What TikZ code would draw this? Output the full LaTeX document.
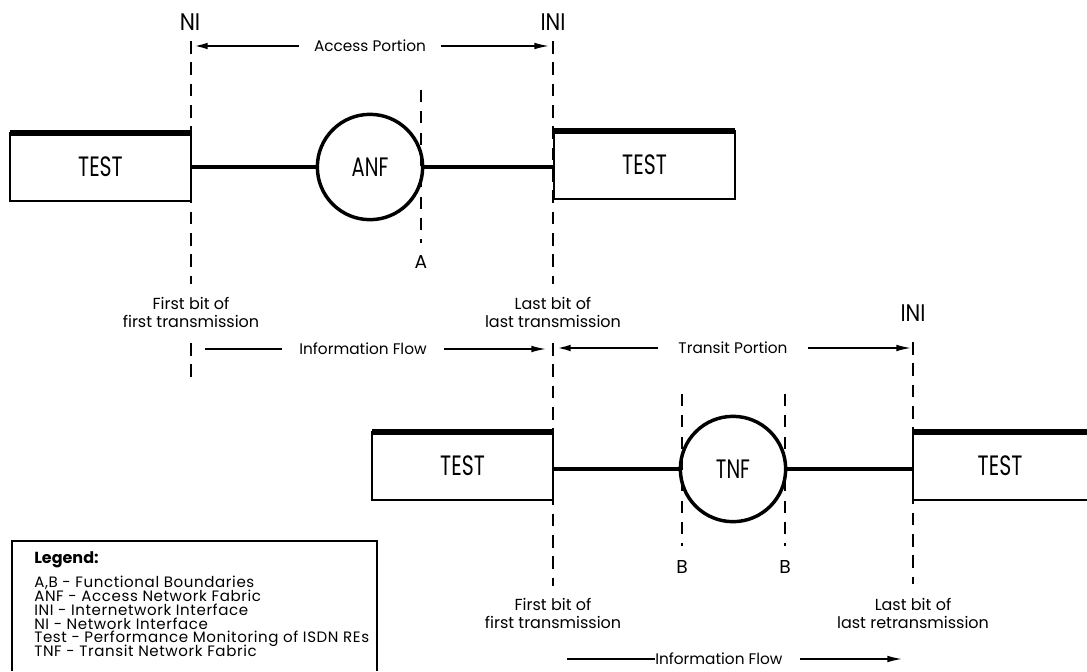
\documentclass[tikz,border=0pt]{standalone}
\usepackage{fontspec}
\usepackage{graphicx}
\setmainfont{Poppins}
\usetikzlibrary{arrows.meta}
\tikzset{
  lbl/.style={font=\fontsize{11.5}{13.5}\selectfont, inner sep=0pt, align=center},
  bitlbl/.style={font=\fontsize{12}{13.5}\selectfont, inner sep=0pt, align=center},
  bndlbl/.style={font=\fontsize{14}{14}\selectfont, inner sep=0pt},
  iface/.style={font=\fontsize{18}{18}\selectfont, inner sep=0pt},
  bnd/.style={line width=1.9pt, dash pattern=on 9.5pt off 6.5pt},
  fbnd/.style={line width=1.2pt, dash pattern=on 9pt off 7pt},
  testbox/.style={draw, line width=2.2pt, inner sep=0pt, outer sep=0pt,
    minimum width=135.75pt, minimum height=51pt, font=\fontsize{21}{21}\selectfont},
  topedge/.style={line width=4pt},
  fabric/.style={circle, draw, line width=2.6pt, inner sep=0pt, outer sep=0pt,
    minimum size=79pt, font=\fontsize{20}{20}\selectfont},
  conn/.style={line width=2.4pt},
  arr/.style={line width=1.1pt, -{Latex[length=11pt,width=5pt]}},
  plainln/.style={line width=1.1pt},
  flowlbl/.style={lbl, inner xsep=11pt},
  lgd/.style={font=\fontsize{11.3}{11.3}\selectfont\addfontfeatures{LetterSpace=4}, anchor=base west, inner sep=0pt},
  legendbox/.style={line width=2.2pt},
}
\newcommand{\cond}[1]{\scalebox{0.73}[1]{#1}}
\begin{document}
\begin{tikzpicture}[x=0.75pt,y=-0.75pt]
\useasboundingbox (0,0) rectangle (1087,671);

% interface labels
\node[iface] (ni) at (190,22) {\scalebox{0.9}[1]{NI}};
\node[iface] (ini) at (553,22) {\scalebox{0.87}[1]{INI}};
\node[iface] (ini2) at (913,313) {\scalebox{0.87}[1]{INI}};

% boxes
\node[testbox] (tl) at (100.5,167) {\cond{TEST}};
\node[testbox] (tr) at (644.5,165) {\cond{TEST}};
\node[testbox] (bl) at (462.5,466) {\cond{TEST}};
\node[testbox, draw=none, minimum width=130.5pt] (br) at (1000,466) {\cond{TEST}};
\coordinate (edgeR) at (1087,0);
\draw[testbox] (br.north west -| edgeR) -- (br.north west) -- (br.south west) -- (br.south west -| edgeR);
\draw[topedge] (tl.north west) -- (tl.north east);
\draw[topedge] (tr.north west) -- (tr.north east);
\draw[topedge] (bl.north west) -- (bl.north east);
\draw[topedge] (br.north west) -- (br.north west -| edgeR);

% fabrics
\node[fabric] (anf) at (370,167) {\cond{ANF}};
\node[fabric] (tnf) at (733,469) {\cond{TNF}};

% connectors
\draw[conn] (anf.west -| tl.east) -- (anf.west);
\draw[conn] (anf.east) -- (anf.east -| tr.west);
\draw[conn] (tnf.west -| bl.east) -- (tnf.west);
\draw[conn] (tnf.east) -- (tnf.east -| br.west);

% text labels
\node[bitlbl] (fb1) at (191,312) {First bit of\\first transmission};
\node[bitlbl] (lb1) at (553,312) {Last bit of\\last transmission};
\node[bitlbl] (fb2) at (553,613) {First bit of\\first transmission};
\node[bitlbl] (lb2) at (913,613) {Last bit of\\last retransmission};
\node[bndlbl] (alab) at (421,262) {A};
\node[bndlbl] (blab1) at (682,567) {B};
\node[bndlbl] (blab2) at (785,567) {B};

% boundary lines
\coordinate (niT) at (191,41);
\coordinate (niM1) at (191,284);
\coordinate (niM2) at (191,343);
\coordinate (niB) at (191,378);
\draw[bnd] (niT) -- (niM1);
\draw[bnd] (niM2) -- (niB);
\coordinate (iniT) at (553,41);
\coordinate (iniM1) at (553,284);
\coordinate (iniM2) at (553,343);
\coordinate (iniB) at (553,586);
\draw[bnd] (iniT) -- (iniM1);
\draw[bnd] (iniM2) -- (iniB);
\coordinate (ini2T) at (913,342);
\coordinate (ini2B) at (913,584);
\draw[bnd] (ini2T) -- (ini2B);
\coordinate (aT) at (421,90);
\coordinate (aB) at (421,243);
\draw[fbnd] (aT) -- (aB);
\coordinate (b1T) at (682,394);
\coordinate (b1B) at (682,546);
\draw[fbnd] (b1T) -- (b1B);
\coordinate (b2T) at (785,394);
\coordinate (b2B) at (785,546);
\draw[fbnd] (b2T) -- (b2B);

% Access portion
\node[flowlbl, inner xsep=11pt] (acc) at (370,46) {Access Portion};
\coordinate (accL) at (193,46);
\coordinate (accR) at (549,46);
\draw[arr, line width=1.8pt] (acc) -- (accL);
\draw[arr] (acc) -- (accR);

% Information flow (upper)
\node[flowlbl, inner xsep=13pt] (if1) at (363,349) {Information Flow};
\coordinate (if1L) at (205,349);
\coordinate (if1R) at (546,349);
\draw[plainln, line width=1.8pt] (if1) -- (if1L);
\draw[arr] (if1) -- (if1R);

% Transit portion
\node[flowlbl, inner xsep=15pt] (tp) at (733,348) {Transit Portion};
\coordinate (tpL) at (556,348);
\coordinate (tpR) at (911,348);
\draw[arr, line width=1.8pt] (tp) -- (tpL);
\draw[arr] (tp) -- (tpR);

% Information flow (lower)
\node[lbl, anchor=west] (if2) at (655,659) {Information Flow};
\coordinate (if2L) at (567,659);
\coordinate (if2R) at (902,659);
\draw[plainln] (if2L) -- (if2.west);
\draw[arr, shorten <=13pt] (if2.east) -- (if2R);

% Legend
\coordinate (lgBL) at (12,671);
\coordinate (lgTL) at (12,541);
\coordinate (lgTR) at (377,541);
\coordinate (lgBR) at (377,671);
\draw[legendbox] (lgBL) -- (lgTL) -- (lgTR) -- (lgBR);
\node[lgd, font=\fontsize{12}{12}\selectfont\bfseries] (lg0) at (34,563) {Legend:};
\node[lgd] (lg1) at (34,587) {A,B - Functional Boundaries};
\node[lgd] (lg2) at (34,601) {ANF - Access Network Fabric};
\node[lgd] (lg3) at (34,615) {INI - Internetwork Interface};
\node[lgd] (lg4) at (34,629) {NI - Network Interface};
\node[lgd] (lg5) at (34,642) {Test - Performance Monitoring of ISDN REs};
\node[lgd] (lg6) at (34,656) {TNF - Transit Network Fabric};
\end{tikzpicture}
\end{document}
